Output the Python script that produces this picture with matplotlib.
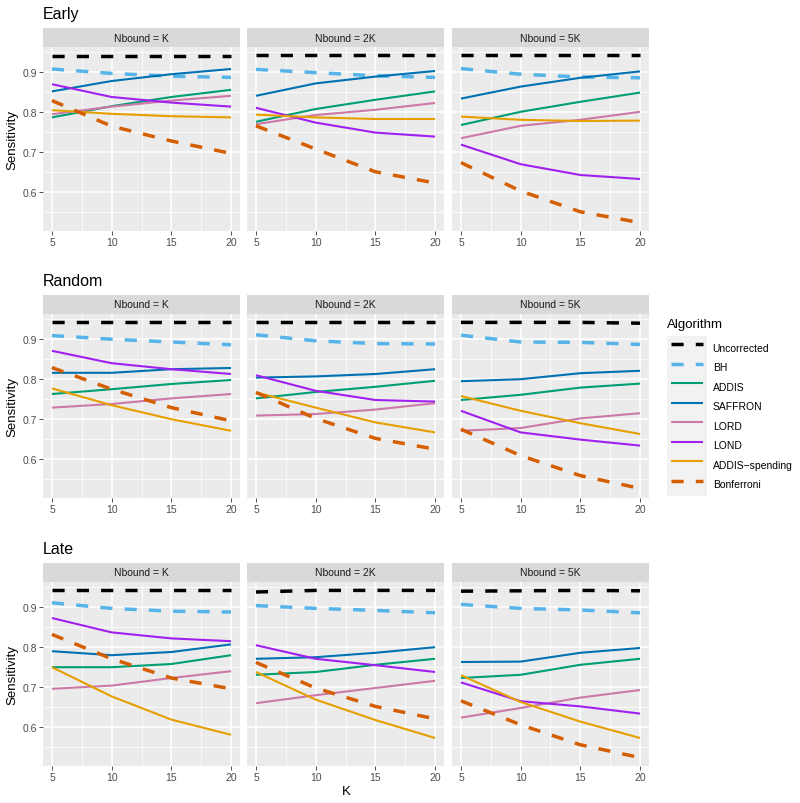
import numpy as np
import matplotlib.pyplot as plt
from matplotlib.lines import Line2D
from matplotlib.patches import Rectangle

plt.rcParams['font.family'] = ['Liberation Sans', 'DejaVu Sans']

# K values on the x axis
k_values = [5, 10, 15, 20]

algorithms = ["Uncorrected", "BH", "ADDIS", "SAFFRON", "LORD", "LOND",
              "ADDIS\u2212spending", "Bonferroni"]
colors = ["#000000", "#56B4E9", "#009E73", "#0072B2", "#CC79A7", "#A020F0",
          "#E69F00", "#D55E00"]
dashed = [True, True, False, False, False, False, False, True]

row_titles = ["Early", "Random", "Late"]
col_titles = ["Nbound = K", "Nbound = 2K", "Nbound = 5K"]

# sensitivity per algorithm (same order as algorithms)
early_k = [
    [0.941, 0.941, 0.941, 0.941],
    [0.908, 0.897, 0.890, 0.887],
    [0.787, 0.815, 0.838, 0.856],
    [0.852, 0.878, 0.895, 0.908],
    [0.795, 0.814, 0.829, 0.841],
    [0.870, 0.838, 0.824, 0.814],
    [0.805, 0.796, 0.790, 0.787],
    [0.829, 0.765, 0.728, 0.697],
]
early_2k = [
    [0.942, 0.942, 0.942, 0.942],
    [0.907, 0.899, 0.891, 0.887],
    [0.776, 0.808, 0.831, 0.852],
    [0.841, 0.872, 0.889, 0.903],
    [0.770, 0.793, 0.806, 0.823],
    [0.811, 0.774, 0.749, 0.739],
    [0.794, 0.787, 0.783, 0.783],
    [0.766, 0.708, 0.651, 0.623],
]
early_5k = [
    [0.942, 0.942, 0.942, 0.942],
    [0.909, 0.895, 0.888, 0.886],
    [0.768, 0.801, 0.826, 0.849],
    [0.834, 0.864, 0.886, 0.902],
    [0.735, 0.766, 0.781, 0.801],
    [0.719, 0.670, 0.643, 0.633],
    [0.789, 0.781, 0.778, 0.779],
    [0.674, 0.603, 0.551, 0.524],
]
random_k = [
    [0.943, 0.943, 0.943, 0.943],
    [0.909, 0.900, 0.893, 0.886],
    [0.763, 0.775, 0.788, 0.798],
    [0.816, 0.816, 0.825, 0.828],
    [0.729, 0.738, 0.752, 0.763],
    [0.871, 0.840, 0.825, 0.813],
    [0.777, 0.735, 0.700, 0.671],
    [0.829, 0.775, 0.729, 0.696],
]
random_2k = [
    [0.942, 0.942, 0.942, 0.942],
    [0.911, 0.896, 0.889, 0.888],
    [0.752, 0.768, 0.781, 0.796],
    [0.804, 0.807, 0.813, 0.825],
    [0.709, 0.713, 0.724, 0.740],
    [0.810, 0.771, 0.748, 0.744],
    [0.767, 0.729, 0.692, 0.667],
    [0.767, 0.702, 0.652, 0.625],
]
random_5k = [
    [0.942, 0.942, 0.942, 0.940],
    [0.910, 0.893, 0.892, 0.887],
    [0.748, 0.761, 0.779, 0.789],
    [0.795, 0.800, 0.815, 0.821],
    [0.671, 0.678, 0.702, 0.715],
    [0.721, 0.667, 0.649, 0.634],
    [0.758, 0.721, 0.690, 0.663],
    [0.675, 0.609, 0.559, 0.527],
]
late_k = [
    [0.943, 0.943, 0.943, 0.943],
    [0.911, 0.897, 0.890, 0.888],
    [0.750, 0.750, 0.758, 0.780],
    [0.790, 0.780, 0.788, 0.807],
    [0.696, 0.704, 0.723, 0.740],
    [0.873, 0.837, 0.822, 0.815],
    [0.750, 0.677, 0.619, 0.581],
    [0.832, 0.771, 0.723, 0.696],
]
late_2k = [
    [0.938, 0.942, 0.942, 0.942],
    [0.904, 0.897, 0.892, 0.886],
    [0.731, 0.738, 0.756, 0.771],
    [0.771, 0.775, 0.786, 0.800],
    [0.660, 0.680, 0.698, 0.716],
    [0.805, 0.771, 0.755, 0.738],
    [0.738, 0.669, 0.618, 0.573],
    [0.762, 0.698, 0.652, 0.621],
]
late_5k = [
    [0.940, 0.941, 0.942, 0.941],
    [0.907, 0.897, 0.893, 0.886],
    [0.723, 0.731, 0.756, 0.771],
    [0.763, 0.764, 0.786, 0.798],
    [0.624, 0.648, 0.674, 0.693],
    [0.712, 0.665, 0.652, 0.634],
    [0.730, 0.663, 0.614, 0.573],
    [0.666, 0.606, 0.556, 0.524],
]

all_rows = [[early_k, early_2k, early_5k],
            [random_k, random_2k, random_5k],
            [late_k, late_2k, late_5k]]

W, H = 800, 804
fig = plt.figure(figsize=(W / 100, H / 100), dpi=100)


def box(left, top, width, height):
    # pixel box (from top-left) -> figure fraction
    return [left / W, 1 - (top + height) / H, width / W, height / H]


def line_style(i):
    if dashed[i]:
        return dict(lw=2.5, ls=(0, (3.5, 3.5)))
    return dict(lw=1.5, ls='-')


col_left = [43, 247, 452]
panel_w = 197
row_top = [48, 315, 583]
panel_h = 184
strip_h = 19
title_y = [14, 282, 550]

for r, panels in enumerate(all_rows):
    for c, data in enumerate(panels):
        ax = fig.add_axes(box(col_left[c], row_top[r], panel_w, panel_h))
        ax.set_facecolor('#EBEBEB')
        for i, alg in enumerate(algorithms):
            ax.plot(k_values, data[i], color=colors[i], solid_capstyle='butt',
                    dash_capstyle='butt', **line_style(i))
        ax.set_xlim(4.25, 20.75)
        ax.set_ylim(0.503, 0.963)
        ax.set_xticks(k_values)
        ax.set_xticklabels([str(k) for k in k_values])
        ax.set_xticks([7.5, 12.5, 17.5], minor=True)
        ax.set_yticks([0.6, 0.7, 0.8, 0.9])
        ax.set_yticklabels(["0.6", "0.7", "0.8", "0.9"])
        ax.set_yticks([0.55, 0.65, 0.75, 0.85, 0.95], minor=True)
        ax.grid(which='major', color='white', lw=1.1)
        ax.grid(which='minor', color='white', lw=0.55)
        ax.set_axisbelow(True)
        for s in ax.spines.values():
            s.set_visible(False)
        ax.tick_params(which='minor', length=0)
        ax.tick_params(which='major', length=3, width=0.6, color='#333333',
                       labelsize=7.5, labelcolor='#4D4D4D', pad=1.5)
        if c > 0:
            ax.tick_params(axis='y', left=False, labelleft=False)

        # facet strip
        sax = fig.add_axes(box(col_left[c], row_top[r] - strip_h, panel_w, strip_h))
        sax.set_facecolor('#D9D9D9')
        sax.set_xticks([])
        sax.set_yticks([])
        for s in sax.spines.values():
            s.set_visible(False)
        sax.text(0.5, 0.5, col_titles[c], ha='center', va='center',
                 fontsize=7.5, color='#1A1A1A', transform=sax.transAxes)

    fig.text(43 / W, 1 - title_y[r] / H, row_titles[r], fontsize=11.5,
             va='center', ha='left')
    fig.text(12.5 / W, 1 - (row_top[r] + panel_h / 2) / H, "Sensitivity",
             rotation=90, fontsize=9.5, va='center', ha='center')

fig.text(346 / W, 1 - 792 / H, "K", fontsize=9.5, ha='center', va='center')

# legend
fig.text(667 / W, 1 - 325 / H, "Algorithm", fontsize=9.5, va='center', ha='left')
fig.patches.append(Rectangle((667 / W, 1 - 497 / H), 40 / W, 160 / H,
                             transform=fig.transFigure, facecolor='#F2F2F2',
                             edgecolor='none', zorder=1))
handles = [Line2D([], [], color=colors[i], solid_capstyle='butt',
                  dash_capstyle='butt', **line_style(i))
           for i in range(len(algorithms))]
fig.legend(handles, algorithms, loc='upper left',
           bbox_to_anchor=(671 / W, 1 - 339 / H), frameon=False,
           fontsize=7.5, handlelength=3.1, handleheight=2.5,
           handletextpad=0.9, labelspacing=0.0, borderpad=0,
           borderaxespad=0)

fig.savefig('out.png', dpi=100)
